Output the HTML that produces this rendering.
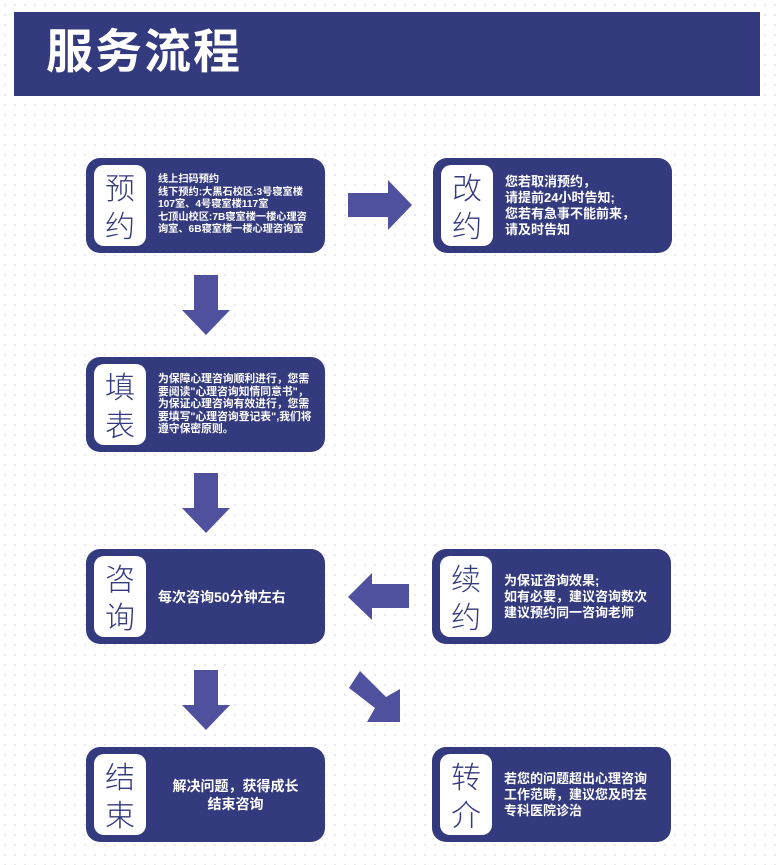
<!DOCTYPE html>
<html><head><meta charset="utf-8"><style>
body{margin:0;width:776px;height:865px;position:relative;overflow:hidden;background:#fff;
background-image:radial-gradient(circle,#e4e4ea 0.8px,transparent 1.2px);background-size:10px 10px;
font-family:"Liberation Sans","Noto Sans CJK SC",sans-serif;}
.hd{position:absolute;left:14px;top:12px;width:746px;height:84px;background:#343a7e;}
.hd span{position:absolute;left:32px;top:12px;color:#fff;font-size:47px;font-weight:bold;letter-spacing:2px;line-height:56px;}
.b{position:absolute;width:239px;height:95px;background:#343a7e;border-radius:14px;}
.l{position:absolute;left:8px;top:7px;width:52px;height:81px;background:#fff;border-radius:10px;color:#343a7e;font-size:30px;line-height:38px;text-align:center;padding-top:2px;box-sizing:border-box;font-family:"Noto Sans CJK SC",sans-serif;font-weight:300;}
.t{position:absolute;left:72px;right:22px;top:0;bottom:0;display:flex;align-items:center;color:#fff;font-weight:bold;font-size:13px;line-height:16px;}
.s{font-size:10.8px;line-height:12.5px;right:12px;}
svg{position:absolute;left:0;top:0;}
</style></head><body>
<div class="hd"><span>服务流程</span></div>

<div class="b" style="left:86px;top:158px"><div class="l">预<br>约</div><div class="t s" style="font-size:10.2px;right:10px"><div>线上扫码预约<br>线下预约:大黑石校区:3号寝室楼<br>107室、4号寝室楼117室<br>七顶山校区:7B寝室楼一楼心理咨询室、6B寝室楼一楼心理咨询室</div></div></div>
<div class="b" style="left:433px;top:158px"><div class="l">改<br>约</div><div class="t"><div>您若取消预约，<br>请提前24小时告知;<br>您若有急事不能前来，<br>请及时告知</div></div></div>
<div class="b" style="left:86px;top:357px"><div class="l">填<br>表</div><div class="t s"><div>为保障心理咨询顺利进行，您需要阅读"心理咨询知情同意书"，为保证心理咨询有效进行，您需要填写"心理咨询登记表",我们将遵守保密原则。</div></div></div>
<div class="b" style="left:86px;top:549px"><div class="l">咨<br>询</div><div class="t" style="font-size:14px"><div>每次咨询50分钟左右</div></div></div>
<div class="b" style="left:432px;top:549px"><div class="l">续<br>约</div><div class="t"><div>为保证咨询效果;<br>如有必要，建议咨询数次<br>建议预约同一咨询老师</div></div></div>
<div class="b" style="left:86px;top:747px"><div class="l">结<br>束</div><div class="t" style="justify-content:center;text-align:center;font-size:14px;line-height:18px;right:12px"><div>解决问题，获得成长<br>结束咨询</div></div></div>
<div class="b" style="left:432px;top:747px"><div class="l">转<br>介</div><div class="t"><div>若您的问题超出心理咨询工作范畴，建议您及时去专科医院诊治</div></div></div>

<svg width="776" height="865" fill="#4f509e">
<polygon points="348,193 388,193 388,180 412,205 388,230 388,217 348,217"/>
<polygon points="194,275 218,275 218,310 230,310 206,335 182,310 194,310"/>
<polygon points="194,473 218,473 218,508 230,508 206,533 182,508 194,508"/>
<polygon points="194,670 218,670 218,705 230,705 206,730 182,705 194,705"/>
<polygon points="409,584 372,584 372,573 348,597 372,620 372,608 409,608"/>
<polygon points="349,688 360,671 386,697 400,689 400,722 367,722 375,708"/>
</svg>
</body></html>
